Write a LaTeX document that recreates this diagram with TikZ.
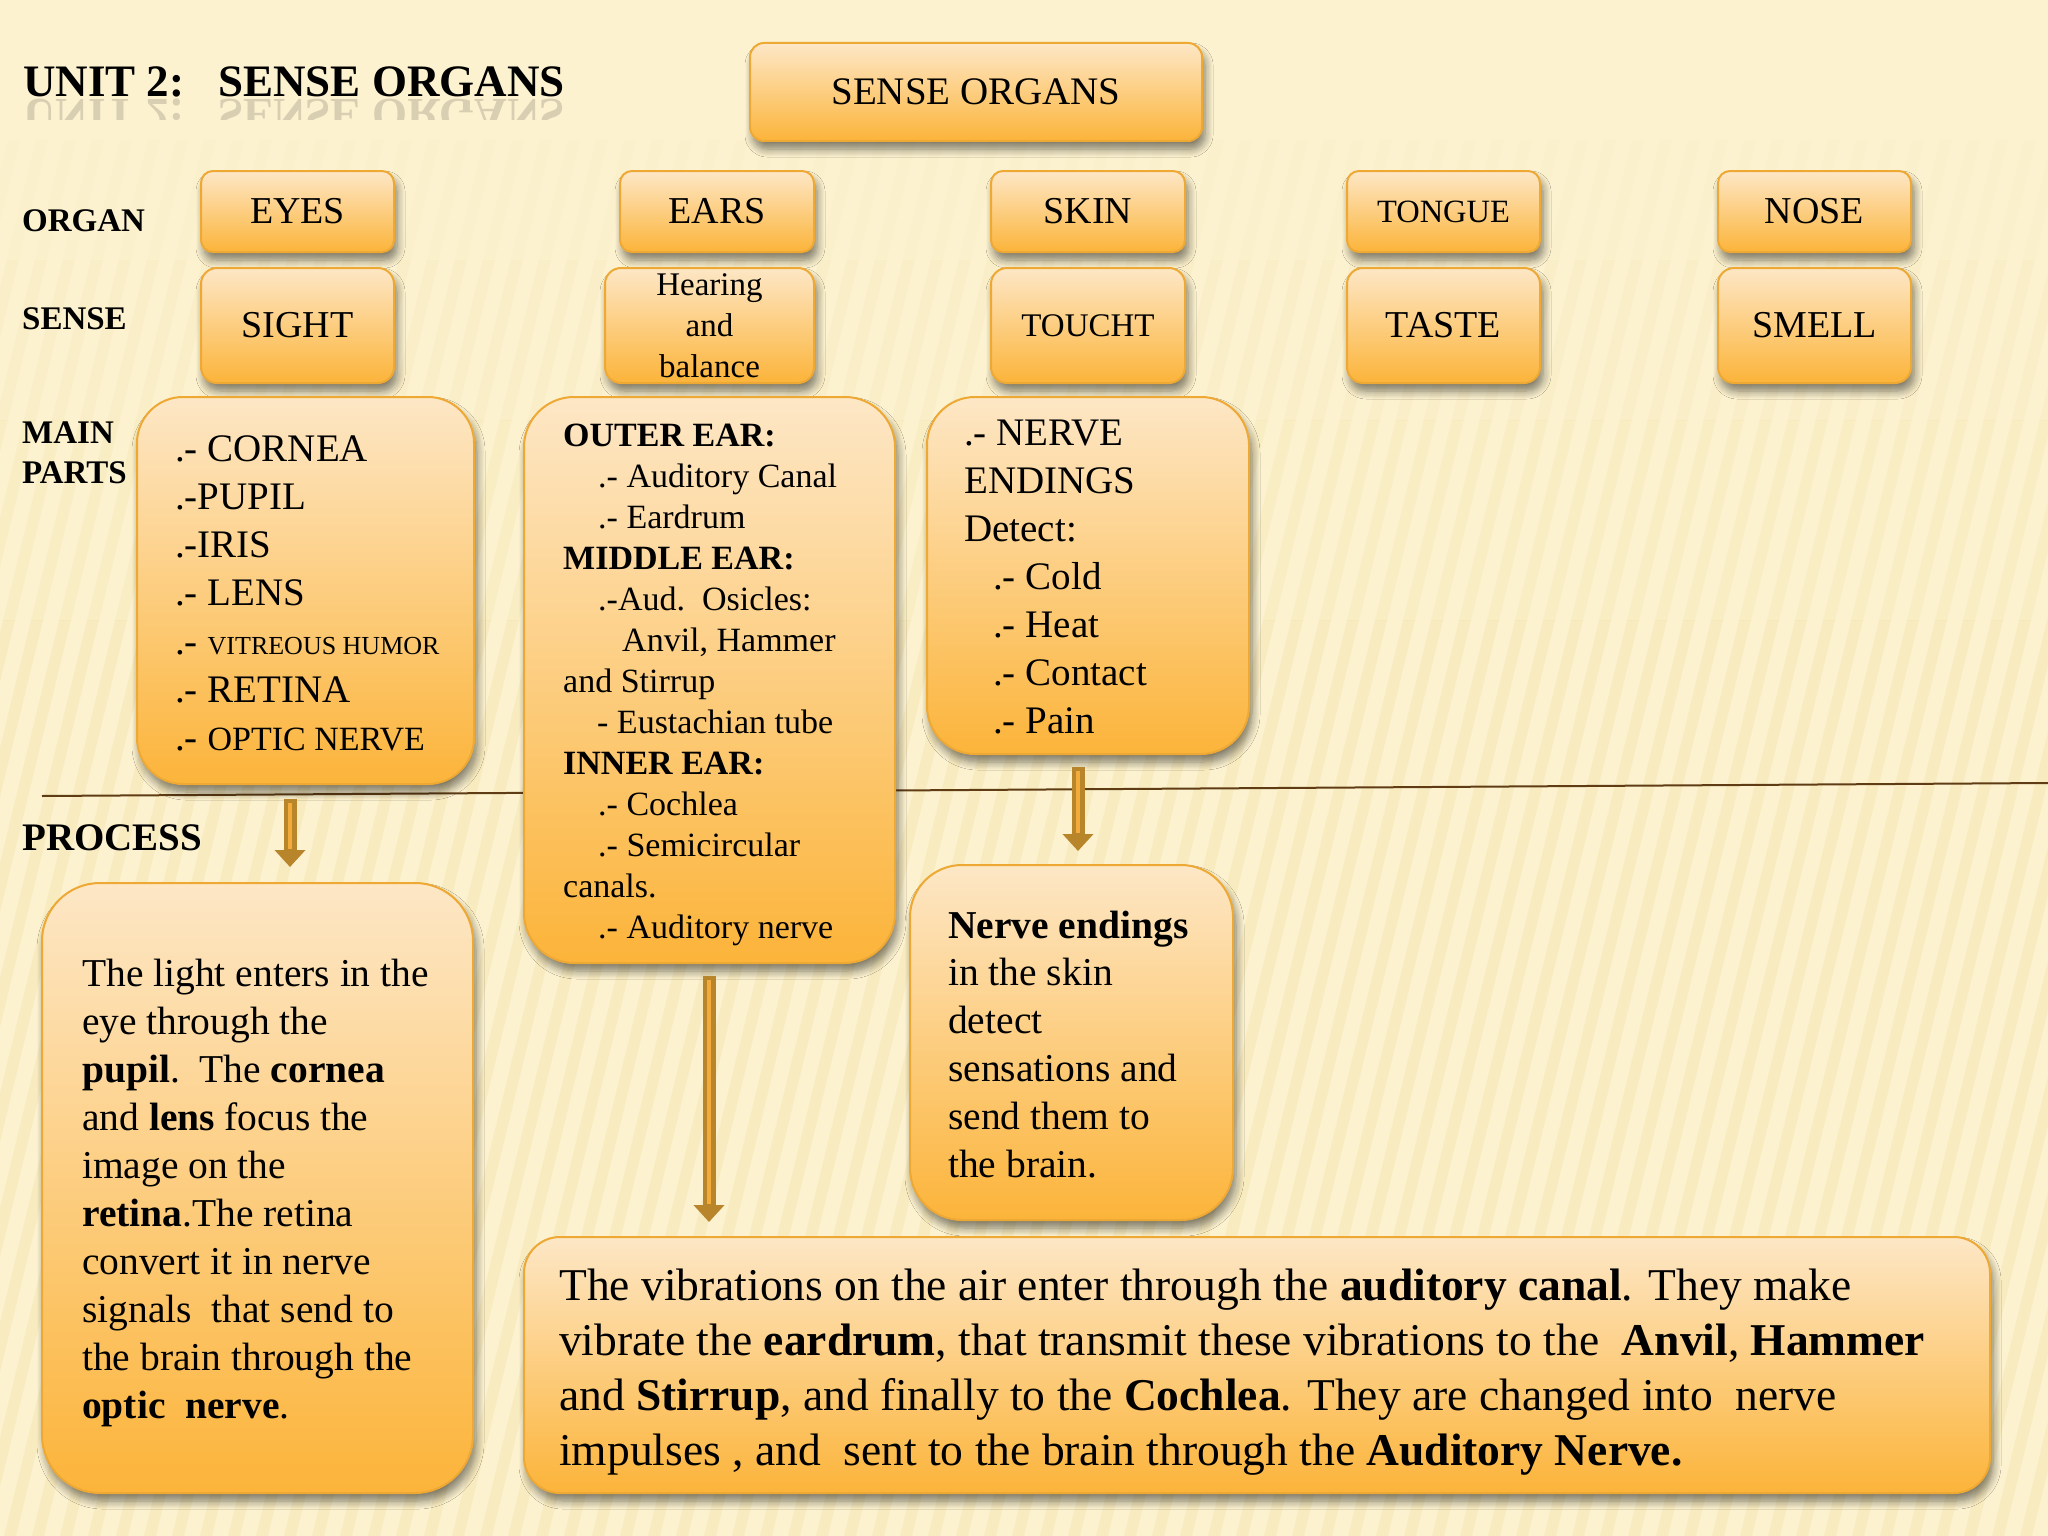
\documentclass[tikz,border=0pt]{standalone}
\usepackage{fontspec}
\setmainfont{Liberation Serif}
\usetikzlibrary{arrows.meta,calc,shadows.blur}
\definecolor{bgc}{RGB}{252,242,208}
\definecolor{stripec}{RGB}{240,222,160}
\definecolor{boxtop}{RGB}{253,231,198}
\definecolor{boxbot}{RGB}{252,180,58}
\definecolor{boxline}{RGB}{238,168,52}
\definecolor{arrbrown}{RGB}{185,133,42}
\definecolor{arrinner}{RGB}{243,172,60}
\definecolor{hlinec}{RGB}{95,60,20}
\newcommand\setfs[2]{\fontsize{#1}{#2}\selectfont}
\newcommand\stripeset{%
  \foreach \i in {0,...,90} {
    \fill[stripec] ({\i*28-360},1536) -- ({\i*28-360+12},1536) -- ({\i*28-360+12+340},140) -- ({\i*28-360+340},140) -- cycle;
  }}
\tikzset{
  obox/.style={rectangle, rounded corners=#1, draw=boxline, line width=2pt,
    top color=boxtop, bottom color=boxbot, inner sep=0pt,
    blur shadow={shadow xshift=3pt, shadow yshift=-8pt, shadow blur radius=8pt, shadow blur steps=8, shadow opacity=50}},
  obox/.default=12pt,
  lbl/.style={anchor=base west, inner sep=0pt, font=\setfs{33}{40}\bfseries},
  txt/.style={anchor=base west, inner sep=0pt, align=left},
  arrshaft/.style={draw=arrbrown, line width=13pt, -{Triangle[length=17pt,width=30pt]}},
  arrin/.style={draw=arrinner, line width=3.5pt},
}
\begin{document}
\begin{tikzpicture}[x=1pt,y=-1pt]
\useasboundingbox (0,0) rectangle (2048,1536);
\fill[bgc] (0,0) rectangle (2048,1536);
% stripes, fading in from the top
\begin{scope}[opacity=0.08]
\clip (0,140) rectangle (2048,260);
\stripeset
\end{scope}
\begin{scope}[opacity=0.16]
\clip (0,260) rectangle (2048,420);
\stripeset
\end{scope}
\begin{scope}[opacity=0.24]
\clip (0,420) rectangle (2048,620);
\stripeset
\end{scope}
\begin{scope}[opacity=0.32]
\clip (0,620) rectangle (2048,1536);
\stripeset
\end{scope}
% title with reflection
\node[anchor=base west, inner sep=0pt, font=\setfs{45}{54}\bfseries] (title) at (23,97) {UNIT 2:\hspace{34pt}SENSE ORGANS};
\begin{scope}
\clip (0,99) rectangle (600,120);
\node[anchor=base west, inner sep=0pt, yscale=-1, opacity=0.14, font=\setfs{45}{54}\bfseries] (titlerefl) at (23,100) {UNIT 2:\hspace{34pt}SENSE ORGANS};
\end{scope}
% left labels
\node[lbl] (lorgan) at (22,231) {ORGAN};
\node[lbl] (lsense) at (22,329) {SENSE};
\node[lbl] (lmain) at (22,443) {MAIN};
\node[lbl] (lparts) at (22,483) {PARTS};
\node[lbl, font=\setfs{39}{46}\bfseries] (lproc) at (22,850) {PROCESS};
% separator line
\coordinate (hlA) at (42,796);
\coordinate (hlB) at (2048,783);
\draw[hlinec, line width=2pt] (hlA) -- (hlB);
% header
\node[obox=14pt, minimum width=452pt, minimum height=98pt, font=\setfs{39}{44}] (hdr) at (976,92) {SENSE ORGANS};
% organ row
\node[obox, minimum width=193pt, minimum height=81pt, font=\setfs{38}{44}] (eyes) at (297.5,211.5) {EYES};
\node[obox, minimum width=194pt, minimum height=81pt, font=\setfs{38}{44}] (ears) at (717,211.5) {EARS};
\node[obox, minimum width=194pt, minimum height=81pt, font=\setfs{38}{44}] (skin) at (1088,211.5) {SKIN};
\node[obox, minimum width=193pt, minimum height=81pt, font=\setfs{32.5}{38}] (tongue) at (1443.5,211.5) {TONGUE};
\node[obox, minimum width=193pt, minimum height=81pt, font=\setfs{38}{44}] (nose) at (1814.5,211.5) {NOSE};
% sense row
\node[obox=16pt, minimum width=193pt, minimum height=115pt, font=\setfs{38}{44}] (sight) at (297.5,325.5) {SIGHT};
\node[obox=16pt, minimum width=209pt, minimum height=115pt] (hearing) at (709.5,325.5) {};
\node[anchor=base, inner sep=0pt, align=center, font=\setfs{33}{41}] (hearingtxt) at (709.5,377) {Hearing\\and\\balance};
\node[obox=16pt, minimum width=194pt, minimum height=115pt, font=\setfs{33}{40}] (touch) at (1088,325.5) {TOUCHT};
\node[obox=16pt, minimum width=193pt, minimum height=115pt, font=\setfs{38}{44}] (taste) at (1443.5,325.5) {TASTE};
\node[obox=16pt, minimum width=193pt, minimum height=115pt, font=\setfs{38}{44}] (smell) at (1814.5,325.5) {SMELL};
% main parts boxes
\node[obox=46pt, minimum width=337pt, minimum height=387pt] (eyeparts) at (305.5,590.5) {};
\node[obox=50pt, minimum width=371pt, minimum height=566pt] (earparts) at (709.5,680) {};
\node[obox=48pt, minimum width=322pt, minimum height=357pt] (skinparts) at (1088,575.5) {};
% process boxes
\node[obox=58pt, minimum width=431pt, minimum height=610pt] (eyeproc) at (257.5,1188) {};
\node[obox=52pt, minimum width=323pt, minimum height=355pt] (skinproc) at (1071.5,1042.5) {};
\node[obox=36pt, minimum width=1466pt, minimum height=256pt] (earproc) at (1257,1365) {};
% arrows
\draw[arrshaft] ($(eyeparts.south)+(-15.5,14)$) -- ($(eyeproc.north)+(32.5,-15)$);
\draw[arrin] ($(eyeparts.south)+(-15.5,18)$) -- ($(eyeproc.north)+(32.5,-33)$);
\draw[arrshaft] ($(earparts.south)+(-0.5,12)$) -- ($(earparts.south |- earproc.north)+(-0.5,-14)$);
\draw[arrin] ($(earparts.south)+(-0.5,16)$) -- ($(earparts.south |- earproc.north)+(-0.5,-32)$);
\draw[arrshaft] ($(skinparts.south)+(-10,12)$) -- ($(skinproc.north)+(6.5,-13)$);
\draw[arrin] ($(skinparts.south)+(-10,16)$) -- ($(skinproc.north)+(6.5,-31)$);
% texts (base anchor = last line baseline)
\node[txt, font=\setfs{39}{48.3}] (eyepartstxt) at (175,750.8) {.- CORNEA\\.-PUPIL\\.-IRIS\\.- LENS\\.- {\setfs{26}{48.3}VITREOUS HUMOR}\\.- RETINA\\.- {\setfs{34}{48.3}OPTIC NERVE}};
\node[txt, font=\setfs{34}{41}] (earpartstxt) at (563,938) {\textbf{OUTER EAR:}\\\hspace*{35pt}.- Auditory Canal\\\hspace*{35pt}.- Eardrum\\\textbf{MIDDLE EAR:}\\\hspace*{35pt}.-Aud.\ \ Osicles:\\\hspace*{59pt}Anvil, Hammer\\and Stirrup\\\hspace*{34pt}- Eustachian tube\\\textbf{INNER EAR:}\\\hspace*{35pt}.- Cochlea\\\hspace*{35pt}.- Semicircular\\canals.\\\hspace*{35pt}.- Auditory nerve};
\node[txt, font=\setfs{39}{48}] (skinpartstxt) at (964,733) {.- NERVE\\ENDINGS\\Detect:\\\hspace*{29pt}.- Cold\\\hspace*{29pt}.- Heat\\\hspace*{29pt}.- Contact\\\hspace*{29pt}.- Pain};
\node[txt, font=\setfs{39.5}{47.9}] (eyeproctxt) at (82,1418) {The light enters in the\\eye through the\\\textbf{pupil}.\ \ The \textbf{cornea}\\and \textbf{lens} focus the\\image on the\\\textbf{retina}.The retina\\convert it in nerve\\signals\ \ that send to\\the brain through the\\\textbf{optic\ \ nerve}.};
\node[txt, font=\setfs{39.5}{47.8}] (skinproctxt) at (948,1177) {\textbf{Nerve endings}\\in the skin\\detect\\sensations and\\send them to\\the brain.};
\node[txt, font=\setfs{45.5}{55}] (earproctxt) at (559,1465) {The vibrations on the air enter through the \textbf{auditory canal}. They make\\vibrate the \textbf{eardrum}, that transmit these vibrations to the\ \ \textbf{Anvil}, \textbf{Hammer}\\and \textbf{Stirrup}, and finally to the \textbf{Cochlea}. They are changed into\ \ nerve\\impulses , and\ \ sent to the brain through the \textbf{Auditory Nerve.}};
\end{tikzpicture}
\end{document}
